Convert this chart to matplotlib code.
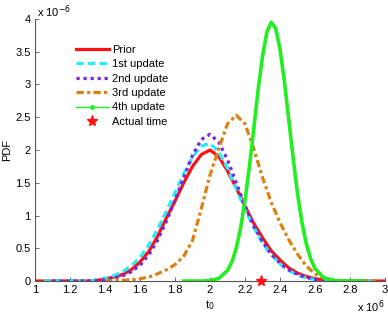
import matplotlib
matplotlib.use("Agg")
import matplotlib.pyplot as plt
from matplotlib.lines import Line2D

plt.rcParams['font.family'] = ['Liberation Sans', 'DejaVu Sans']

# time grid (x 10^6) and PDFs (x 10^-6)
t_grid = [1.00, 1.05, 1.10, 1.15, 1.20, 1.25, 1.30, 1.35, 1.40, 1.45,
          1.50, 1.55, 1.60, 1.65, 1.70, 1.75, 1.80, 1.85, 1.90, 1.95,
          2.00, 2.05, 2.10, 2.15, 2.20, 2.25, 2.30, 2.35, 2.40, 2.45,
          2.50, 2.55, 2.60, 2.65, 2.70, 2.75, 2.80, 2.85, 2.90, 2.95, 3.00]

prior = [0, 0, 0, 0, 0, 0, 0, 0.01, 0.03, 0.06,
         0.10, 0.17, 0.29, 0.45, 0.68, 0.96, 1.22, 1.50, 1.75, 1.93,
         2.00, 1.90, 1.68, 1.42, 1.14, 0.88, 0.66, 0.46, 0.32, 0.20,
         0.12, 0.07, 0.035, 0.015, 0.005, 0, 0, 0, 0, 0, 0]

# 1.05 .. 2.95
upd1 = [0, 0, 0, 0, 0, 0, 0.015, 0.04, 0.08,
        0.14, 0.23, 0.36, 0.55, 0.79, 1.06, 1.35, 1.64, 1.89, 2.06,
        2.10, 1.97, 1.72, 1.41, 1.09, 0.82, 0.58, 0.40, 0.26, 0.16,
        0.09, 0.05, 0.02, 0.008, 0, 0, 0, 0, 0, 0]

# 1.10 .. 2.90
upd2 = [0, 0, 0, 0, 0, 0.005, 0.02, 0.045,
        0.08, 0.14, 0.24, 0.40, 0.62, 0.91, 1.23, 1.58, 1.92, 2.16,
        2.24, 2.12, 1.85, 1.50, 1.15, 0.84, 0.60, 0.41, 0.27, 0.17,
        0.10, 0.055, 0.025, 0.01, 0, 0, 0, 0, 0]

# 1.40 .. 2.95
upd3 = [0, 0.005,
        0.01, 0.02, 0.035, 0.06, 0.11, 0.17, 0.25, 0.38, 0.62, 1.10,
        1.62, 2.02, 2.40, 2.53, 2.40, 2.02, 1.58, 1.20, 0.89, 0.63,
        0.41, 0.23, 0.11, 0.045, 0.015, 0.005, 0, 0, 0, 0]

t_upd4 = [1.85, 1.95, 2.00, 2.05, 2.10, 2.125, 2.15, 2.175, 2.20, 2.225,
          2.25, 2.275, 2.30, 2.325, 2.35, 2.375, 2.40, 2.425, 2.45, 2.475,
          2.50, 2.525, 2.55, 2.575, 2.60, 2.65, 2.70, 2.75, 2.88]
upd4 = [0, 0, 0.008, 0.04, 0.16, 0.29, 0.50, 0.81, 1.23, 1.74,
        2.32, 2.92, 3.43, 3.80, 3.95, 3.86, 3.54, 3.05, 2.47, 1.88,
        1.34, 0.90, 0.57, 0.34, 0.19, 0.05, 0.015, 0, 0]

actual_time = 2.29

fig = plt.figure(figsize=(3.88, 3.15), dpi=100)
ax = fig.add_axes([0.0902, 0.1079, 0.9021, 0.8318])

RED, CYAN, PURPLE, ORANGE, GREEN = '#ff1010', '#22eef5', '#7a22e0', '#dd8010', '#22ee22'
ls1 = (0, (2.3, 1.3))
ls2 = (0, (1, 1.2))
ls3 = (0, (2.3, 1.0, 1.0, 1.0))

ax.plot(t_grid, prior, color=RED, lw=2.3, solid_joinstyle='round')
ax.plot(t_grid[1:-1], upd1, color=CYAN, lw=2.3, linestyle=ls1)
ax.plot(t_grid[2:-2], upd2, color=PURPLE, lw=2.3, linestyle=ls2)
ax.plot(t_grid[8:-1], upd3, color=ORANGE, lw=2.3, linestyle=ls3)
ax.plot(t_upd4, upd4, color=GREEN, lw=2.6, solid_joinstyle='round')
ax.plot([actual_time], [0], linestyle='none', marker='*', color=RED,
        markersize=8, clip_on=False, zorder=5)

handles = [
    Line2D([], [], color=RED, lw=2.3),
    Line2D([], [], color=CYAN, lw=2.3, linestyle=ls1),
    Line2D([], [], color=PURPLE, lw=2.3, linestyle=ls2),
    Line2D([], [], color=ORANGE, lw=2.3, linestyle=ls3),
    Line2D([], [], color=GREEN, lw=1.0, marker='.', markersize=5),
    Line2D([], [], color=RED, linestyle='none', marker='*', markersize=8),
]
labels = ['Prior', '1st update', '2nd update', '3rd update', '4th update', 'Actual time']
ax.legend(handles, labels, loc='upper left', bbox_to_anchor=(0.118, 0.902),
          frameon=False, fontsize=8, handlelength=2.9, handletextpad=0.35,
          labelspacing=0.4, borderpad=0, borderaxespad=0, numpoints=1)

ax.set_xlim(1, 3)
ax.set_ylim(0, 4)
ax.set_xticks([1, 1.2, 1.4, 1.6, 1.8, 2, 2.2, 2.4, 2.6, 2.8, 3])
ax.set_xticklabels(['1', '1.2', '1.4', '1.6', '1.8', '2', '2.2', '2.4', '2.6', '2.8', '3'])
ax.set_yticks([0, 0.5, 1, 1.5, 2, 2.5, 3, 3.5, 4])
ax.set_yticklabels(['0', '0.5', '1', '1.5', '2', '2.5', '3', '3.5', '4'])
ax.tick_params(direction='in', length=3, width=0.6, colors='#555555',
               labelcolor='black', labelsize=8, pad=3)
for side in ['top', 'right']:
    ax.spines[side].set_visible(False)
for side in ['left', 'bottom']:
    ax.spines[side].set_color('#555555')
    ax.spines[side].set_linewidth(0.8)

ax.set_xlabel('t$_0$', fontsize=8, labelpad=2)
ax.set_ylabel('PDF', fontsize=8)
ax.yaxis.set_label_coords(-0.066, 0.5)

fig.text(0.095, 0.962, r'x 10$^{-6}$', fontsize=8, ha='left', va='center')
fig.text(0.992, 0.025, r'x 10$^{6}$', fontsize=8, ha='right', va='center')

fig.savefig('out.png', dpi=100)
